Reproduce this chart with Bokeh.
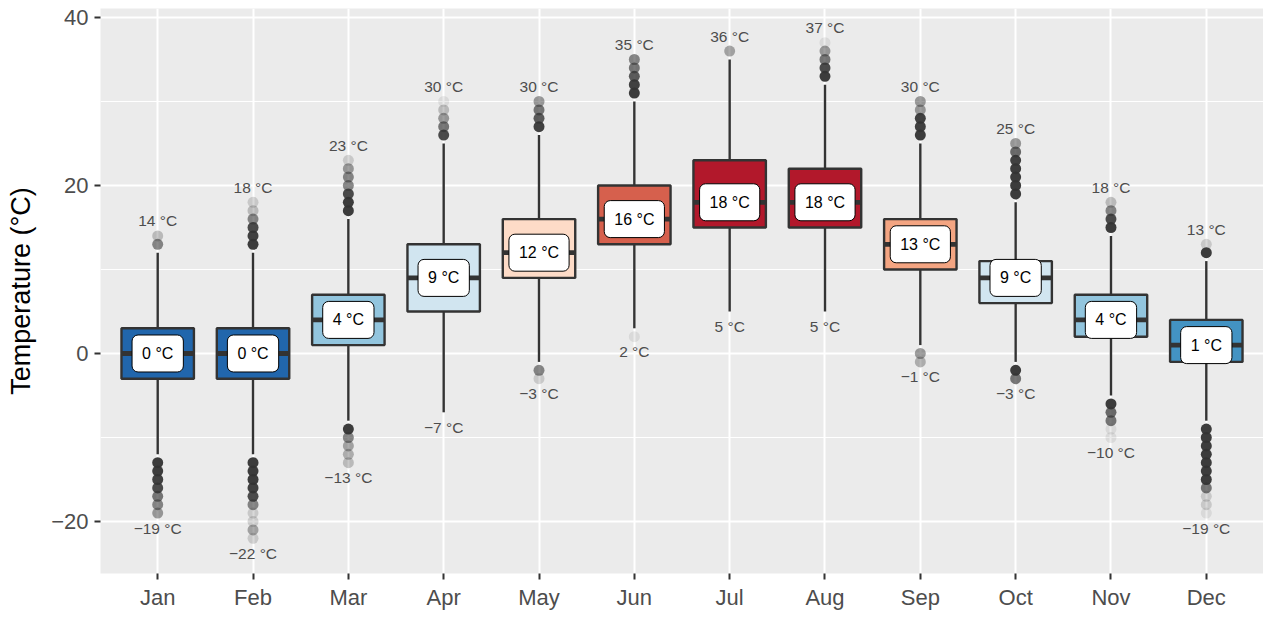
from bokeh.plotting import figure
from bokeh.models import ColumnDataSource, FixedTicker
from bokeh.core.properties import value
from bokeh.embed import file_html
from bokeh.resources import INLINE

# ---------------- data ----------------
months = ["Jan", "Feb", "Mar", "Apr", "May", "Jun", "Jul", "Aug", "Sep", "Oct", "Nov", "Dec"]
q1 = [-3, -3, 1, 5, 9, 13, 15, 15, 10, 6, 2, -1]
median = [0, 0, 4, 9, 12, 16, 18, 18, 13, 9, 4, 1]
q3 = [3, 3, 7, 13, 16, 20, 23, 22, 16, 11, 7, 4]
whisker_low = [-12, -12, -8, -7, -1, 3, 5, 5, 1, -1, -5, -8]
whisker_high = [12, 12, 16, 25, 26, 30, 35, 32, 25, 18, 14, 11]
box_colors = ["#2166AC", "#2166AC", "#92C5DE", "#D1E5F0", "#FDDBC7", "#D6604D",
              "#B2182B", "#B2182B", "#F4A582", "#D1E5F0", "#92C5DE", "#4393C3"]

# outliers per month: temperature values and number of days observed
outlier_temps = [
    [14, 13, -13, -14, -15, -16, -17, -18, -19],
    [18, 17, 16, 15, 14, 13, -13, -14, -15, -16, -17, -18, -19, -20, -21, -22],
    [23, 22, 21, 20, 19, 18, 17, -9, -10, -11, -12, -13],
    [30, 29, 28, 27, 26],
    [30, 29, 28, 27, -2, -3],
    [35, 34, 33, 32, 31, 2],
    [36],
    [37, 36, 35, 34, 33],
    [30, 29, 28, 27, 26, 0, -1],
    [25, 24, 23, 22, 21, 20, 19, -2, -3],
    [18, 17, 16, 15, -6, -7, -8, -9, -10],
    [13, 12, -9, -10, -11, -12, -13, -14, -15, -16, -17, -18, -19],
]
outlier_counts = [
    [3, 8, 30, 30, 25, 20, 10, 8, 6],
    [2, 3, 8, 20, 25, 30, 30, 30, 30, 25, 20, 8, 2, 2, 5, 2],
    [2, 6, 8, 8, 20, 30, 30, 30, 8, 5, 4, 3],
    [1, 3, 6, 10, 20],
    [6, 10, 15, 25, 8, 2],
    [8, 10, 15, 25, 30, 1],
    [5],
    [1, 6, 10, 20, 30],
    [6, 6, 25, 25, 30, 6, 4],
    [6, 12, 25, 30, 30, 30, 30, 30, 10],
    [3, 8, 20, 30, 30, 12, 10, 1, 1],
    [2, 30, 30, 30, 30, 30, 30, 30, 30, 10, 2, 2, 1],
]

# ---------------- derived ----------------
xs = list(range(1, len(months) + 1))
om, ot, alphas = [], [], []
for i, (temps, counts) in enumerate(zip(outlier_temps, outlier_counts)):
    om += [xs[i]] * len(temps)
    ot += temps
    alphas += [1 - 0.9 ** c for c in counts]

mins = [min(t + [lo]) for t, lo in zip(outlier_temps, whisker_low)]
maxs = [max(t + [hi]) for t, hi in zip(outlier_temps, whisker_high)]

def fmt(v):
    return f"{v} °C".replace("-", "\u2212")

HALF = 0.38
box_src = ColumnDataSource(dict(x=xs, q1=q1, q3=q3, med=median, lo=whisker_low, hi=whisker_high,
                                color=box_colors,
                                left=[x - HALF for x in xs], right=[x + HALF for x in xs],
                                medlab=[fmt(m) for m in median]))
out_src = ColumnDataSource(dict(x=om, y=ot, a=alphas))
mx_src = ColumnDataSource(dict(x=xs, y=maxs, t=[fmt(v) for v in maxs]))
mn_src = ColumnDataSource(dict(x=xs, y=mins, t=[fmt(v) for v in mins]))

# ---------------- figure ----------------
FONT = "Liberation Sans"
p = figure(width=1263, height=619, output_backend="svg", toolbar_location=None,
           x_range=(0.4, 12.6), y_range=(-26.19, 41.07),
           min_border_left=100, min_border_right=0, min_border_top=8, min_border_bottom=46)
p.background_fill_color = "#EBEBEB"
p.border_fill_color = "white"
p.outline_line_color = None

p.yaxis.ticker = FixedTicker(ticks=[-20, 0, 20, 40], minor_ticks=[-10, 10, 30])
p.xaxis.ticker = FixedTicker(ticks=xs)
p.xaxis.major_label_overrides = {x: m for x, m in zip(xs, months)}
p.yaxis.major_label_overrides = {-20: "\u221220", 0: "0", 20: "20", 40: "40"}

for ax in (p.xaxis, p.yaxis):
    ax.axis_line_color = None
    ax.major_tick_line_color = "#333333"
    ax.major_tick_line_width = 2
    ax.major_tick_out = 6
    ax.major_tick_in = 0
    ax.minor_tick_line_color = None
    ax.major_label_text_color = "#4D4D4D"
    ax.major_label_text_font = FONT
    ax.major_label_text_font_size = "22px"
p.yaxis.major_label_standoff = 6
p.xaxis.major_label_standoff = 5
p.yaxis.axis_label = "Temperature (°C)"
p.yaxis.axis_label_text_font = FONT
p.yaxis.axis_label_text_font_size = "27px"
p.yaxis.axis_label_text_font_style = "normal"
p.yaxis.axis_label_text_color = "black"
p.yaxis.axis_label_standoff = 12

p.xgrid.grid_line_color = "white"
p.xgrid.grid_line_width = 2
p.ygrid.grid_line_color = "white"
p.ygrid.grid_line_width = 2
p.ygrid.minor_grid_line_color = "white"
p.ygrid.minor_grid_line_width = 1

# whiskers
p.segment(x0="x", y0="q3", x1="x", y1="hi", source=box_src, line_color="#333333", line_width=2.4)
p.segment(x0="x", y0="q1", x1="x", y1="lo", source=box_src, line_color="#333333", line_width=2.4)
# boxes
p.quad(left="left", right="right", top="q3", bottom="q1", source=box_src,
       fill_color="color", line_color="#333333", line_width=2.4)
# medians
p.segment(x0="left", y0="med", x1="right", y1="med", source=box_src, line_color="#333333", line_width=4.8)
# outliers
p.scatter(x="x", y="y", source=out_src, size=11, fill_color="#333333", fill_alpha="a", line_color=None)
# min / max labels
p.text(x="x", y="y", text="t", source=mx_src, y_offset=-15, text_align="center", text_baseline="middle",
       text_font=value(FONT), text_font_size="15.5px", text_color="#4D4D4D")
p.text(x="x", y="y", text="t", source=mn_src, y_offset=15, text_align="center", text_baseline="middle",
       text_font=value(FONT), text_font_size="15.5px", text_color="#4D4D4D")
# median labels
p.text(x="x", y="med", text="medlab", source=box_src, text_align="center", text_baseline="middle",
       text_font=value(FONT), text_font_size="16px", text_color="black",
       background_fill_color="white", border_line_color="black", border_line_width=1,
       padding=10, border_radius=6)

open("out.html", "w").write(file_html(p, INLINE))
